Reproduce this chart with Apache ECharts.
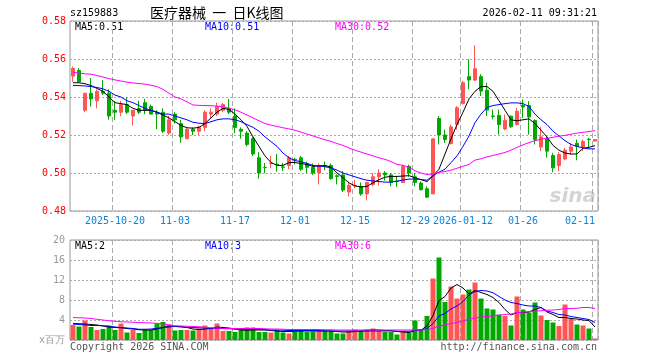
<!DOCTYPE html>
<html><head><meta charset="utf-8">
<script src="https://cdn.jsdelivr.net/npm/echarts@6/dist/echarts.min.js"></script>
<style>html,body{margin:0;padding:0;background:#fff}#c{width:660px;height:360px}</style>
</head><body><div id="c"></div>
<script>
const dates = ['2025-10-09','2025-10-10','2025-10-13','2025-10-14','2025-10-15','2025-10-16','2025-10-17','2025-10-20','2025-10-21','2025-10-22',
'2025-10-23','2025-10-24','2025-10-27','2025-10-28','2025-10-29','2025-10-30','2025-10-31','2025-11-03','2025-11-04','2025-11-05',
'2025-11-06','2025-11-07','2025-11-10','2025-11-11','2025-11-12','2025-11-13','2025-11-14','2025-11-17','2025-11-18','2025-11-19',
'2025-11-20','2025-11-21','2025-11-24','2025-11-25','2025-11-26','2025-11-27','2025-11-28','2025-12-01','2025-12-02','2025-12-03',
'2025-12-04','2025-12-05','2025-12-08','2025-12-09','2025-12-10','2025-12-11','2025-12-12','2025-12-15','2025-12-16','2025-12-17',
'2025-12-18','2025-12-19','2025-12-22','2025-12-23','2025-12-24','2025-12-25','2025-12-26','2025-12-29','2025-12-30','2025-12-31',
'2026-01-05','2026-01-06','2026-01-07','2026-01-08','2026-01-09','2026-01-12','2026-01-13','2026-01-14','2026-01-15','2026-01-16',
'2026-01-19','2026-01-20','2026-01-21','2026-01-22','2026-01-23','2026-01-26','2026-01-27','2026-01-28','2026-01-29','2026-01-30',
'2026-02-02','2026-02-03','2026-02-04','2026-02-05','2026-02-06','2026-02-09','2026-02-10','2026-02-11'];

const open = [0.551,0.554,0.533,0.542,0.538,0.543,0.542,0.533,0.532,0.536,
0.530,0.534,0.537,0.535,0.532,0.532,0.521,0.531,0.526,0.518,
0.523,0.522,0.524,0.531,0.531,0.533,0.534,0.530,0.523,0.521,
0.518,0.508,0.503,0.505,0.5047,0.5032,0.504,0.5072,0.508,0.505,
0.503,0.500,0.5037,0.504,0.4985,0.499,0.490,0.4932,0.493,0.489,
0.494,0.498,0.500,0.499,0.4958,0.495,0.5035,0.498,0.4947,0.4917,
0.489,0.5287,0.520,0.5155,0.5255,0.5366,0.5507,0.5489,0.5507,0.5436,
0.530,0.5303,0.5232,0.5299,0.5255,0.5356,0.5355,0.5276,0.5137,0.5181,
0.5092,0.5039,0.5074,0.5115,0.5157,0.5137,0.5178,0.5168];
const close = [0.555,0.548,0.542,0.539,0.543,0.542,0.530,0.532,0.536,0.532,
0.533,0.532,0.533,0.531,0.531,0.522,0.528,0.528,0.519,0.523,
0.522,0.524,0.532,0.532,0.535,0.536,0.532,0.524,0.522,0.515,
0.510,0.500,0.5028,0.5053,0.5044,0.503,0.508,0.5068,0.502,0.503,
0.500,0.504,0.5034,0.497,0.4982,0.491,0.4935,0.4935,0.489,0.495,
0.498,0.500,0.499,0.495,0.4955,0.5035,0.500,0.495,0.4912,0.4873,
0.518,0.520,0.5176,0.5243,0.5343,0.5475,0.5489,0.5549,0.5431,0.5331,
0.5298,0.5255,0.5278,0.5243,0.5325,0.5347,0.5295,0.5176,0.519,0.5115,
0.5027,0.5097,0.512,0.5137,0.514,0.5166,0.5175,0.5176];
const low = [0.548,0.548,0.532,0.535,0.534,0.541,0.528,0.528,0.530,0.531,
0.525,0.531,0.531,0.531,0.523,0.521,0.520,0.526,0.516,0.518,
0.520,0.520,0.522,0.529,0.530,0.532,0.531,0.521,0.518,0.514,
0.509,0.497,0.4998,0.5025,0.5007,0.501,0.502,0.5045,0.501,0.500,
0.499,0.494,0.5015,0.4965,0.494,0.490,0.4877,0.492,0.488,0.4856,
0.493,0.4935,0.496,0.493,0.4926,0.495,0.498,0.493,0.4908,0.4868,
0.489,0.515,0.5158,0.515,0.5228,0.536,0.544,0.5484,0.5405,0.530,
0.5282,0.5202,0.5225,0.5238,0.525,0.529,0.5202,0.515,0.5115,0.508,
0.5004,0.5009,0.5067,0.5097,0.5067,0.5115,0.5132,0.5165];
const high = [0.556,0.5553,0.542,0.550,0.544,0.549,0.544,0.538,0.538,0.540,
0.533,0.538,0.539,0.536,0.533,0.534,0.530,0.532,0.528,0.524,
0.524,0.525,0.533,0.534,0.537,0.537,0.539,0.534,0.524,0.522,
0.519,0.511,0.5053,0.509,0.510,0.5053,0.509,0.508,0.509,0.506,
0.505,0.505,0.506,0.505,0.4993,0.501,0.4955,0.4963,0.495,0.4955,
0.500,0.502,0.501,0.500,0.4982,0.5044,0.5044,0.500,0.4956,0.493,
0.518,0.530,0.5228,0.5255,0.5352,0.5484,0.5598,0.5672,0.552,0.5475,
0.5334,0.5334,0.5308,0.5303,0.5343,0.5387,0.5378,0.5282,0.5243,0.5194,
0.5106,0.511,0.5132,0.5158,0.5176,0.5176,0.5185,0.5178];

const ma5 = [0.5475,0.5475,0.547,0.546,0.5445,0.543,0.540,0.537,0.5365,0.536,
0.534,0.533,0.533,0.533,0.532,0.5305,0.529,0.527,0.525,0.5238,
0.5236,0.524,0.526,0.529,0.532,0.534,0.5335,0.531,0.528,0.5245,
0.519,0.514,0.509,0.5055,0.504,0.504,0.5055,0.5055,0.505,0.5045,
0.5035,0.5037,0.504,0.503,0.500,0.4975,0.4948,0.4932,0.4926,0.493,
0.4948,0.4965,0.4978,0.4982,0.4982,0.4984,0.4986,0.4975,0.4965,0.4955,
0.4985,0.502,0.510,0.518,0.5255,0.532,0.539,0.543,0.5455,0.5455,
0.543,0.538,0.533,0.528,0.5275,0.528,0.5285,0.526,0.5225,0.519,
0.5145,0.512,0.5105,0.510,0.510,0.513,0.5135,0.5144];
const ma10 = [0.5461,0.546,0.5458,0.5455,0.545,0.5443,0.543,0.541,0.540,0.538,
0.537,0.5355,0.534,0.533,0.532,0.531,0.531,0.530,0.529,0.528,
0.5267,0.5262,0.526,0.527,0.528,0.5285,0.5285,0.528,0.527,0.5255,
0.524,0.522,0.519,0.5165,0.514,0.5105,0.508,0.5065,0.506,0.505,
0.504,0.5037,0.5033,0.5027,0.5015,0.500,0.499,0.498,0.497,0.4962,
0.4958,0.4955,0.4952,0.4952,0.4957,0.4963,0.4968,0.4968,0.4966,0.4962,
0.4985,0.5005,0.502,0.5055,0.509,0.514,0.5195,0.5265,0.531,0.5345,
0.5355,0.536,0.5365,0.5369,0.5369,0.5365,0.535,0.531,0.528,0.5255,
0.522,0.5195,0.517,0.515,0.514,0.5132,0.5127,0.5127];
const ma30 = [0.553,0.5526,0.5522,0.552,0.5513,0.5505,0.5497,0.549,0.5484,0.5478,
0.5474,0.5471,0.5468,0.5462,0.5455,0.544,0.542,0.540,0.539,0.5375,
0.5358,0.5356,0.5355,0.5354,0.5352,0.5348,0.5342,0.5332,0.532,0.5305,
0.529,0.5275,0.526,0.5252,0.5245,0.5238,0.5232,0.5225,0.5215,0.5205,
0.5195,0.5185,0.5175,0.5167,0.5155,0.5145,0.5132,0.512,0.511,0.510,
0.509,0.508,0.5072,0.506,0.5045,0.504,0.503,0.5012,0.500,0.4992,
0.4995,0.5003,0.5008,0.5015,0.5025,0.5035,0.5045,0.5068,0.5075,0.5085,
0.5092,0.510,0.5108,0.512,0.5135,0.5148,0.516,0.517,0.5178,0.5182,
0.5188,0.5194,0.5198,0.5204,0.521,0.5214,0.5218,0.5223];

const volume = [3.0,2.7,3.9,2.6,2.0,2.2,2.8,2.0,3.3,1.5,
2.0,1.4,2.1,2.0,3.3,3.6,3.1,1.9,2.0,2.0,
1.9,2.3,2.9,2.3,3.3,1.8,1.8,1.6,2.0,2.5,
2.5,1.6,1.6,1.5,2.0,1.5,1.3,1.7,1.9,1.6,
1.7,1.8,1.8,1.8,1.3,1.3,1.8,2.1,1.8,2.1,
2.3,1.8,1.6,1.6,1.1,1.8,1.5,3.9,2.1,4.8,
12.3,16.5,7.6,10.7,8.3,9.1,10.1,11.5,8.3,6.3,
6.1,5.1,4.8,2.9,8.7,6.1,5.5,7.5,4.9,4.0,
3.5,2.8,7.1,4.3,3.1,2.9,2.3,0.3];
const vma5 = [3.3,3.25,3.2,3.1,3.0,2.8,2.6,2.5,2.45,2.3,
2.2,2.05,2.0,2.0,2.2,2.5,2.8,2.75,2.7,2.5,
2.2,2.1,2.2,2.3,2.6,2.5,2.4,2.2,2.0,1.95,
2.0,2.0,2.0,1.9,1.8,1.7,1.7,1.75,1.8,1.8,
1.8,1.8,1.8,1.8,1.7,1.6,1.6,1.7,1.8,1.9,
2.0,2.0,1.9,1.9,1.7,1.6,1.5,1.9,2.0,2.8,
4.9,7.9,8.7,10.4,11.1,10.4,9.2,9.9,9.5,9.1,
8.5,7.5,6.1,5.0,5.5,5.5,5.6,6.1,6.5,5.6,
5.1,4.5,4.5,4.3,4.2,4.0,3.9,2.6];
const vma10 = [3.2,3.1,3.0,2.9,2.9,2.85,2.8,2.6,2.5,2.4,
2.3,2.15,2.15,2.2,2.35,2.5,2.6,2.7,2.6,2.5,
2.5,2.45,2.4,2.35,2.35,2.3,2.25,2.2,2.1,2.1,
2.1,2.1,2.05,2.0,2.0,1.95,1.9,1.9,1.9,1.9,
1.9,1.9,1.85,1.8,1.8,1.8,1.8,1.8,1.8,1.8,
1.8,1.8,1.8,1.8,1.75,1.75,1.75,1.9,2.0,2.3,
3.3,4.8,5.3,6.2,6.8,7.7,9.0,9.7,9.9,9.8,
9.45,8.7,8.0,7.5,7.3,7.0,6.8,6.8,6.5,5.8,
5.5,5.1,5.0,4.7,4.5,4.3,4.1,3.5];
const vma30 = [4.5,4.45,4.4,4.3,4.15,4.0,3.85,3.75,3.65,3.6,
3.55,3.5,3.45,3.4,3.35,3.2,3.0,2.85,2.8,2.75,
2.7,2.65,2.55,2.45,2.4,2.3,2.3,2.3,2.3,2.3,
2.3,2.3,2.25,2.2,2.2,2.15,2.1,2.1,2.1,2.1,
2.1,2.1,2.05,2.05,2.0,2.0,2.0,2.0,2.0,2.0,
2.0,2.0,2.0,2.0,2.0,2.0,2.0,2.0,2.0,2.1,
2.3,2.8,3.0,3.3,3.5,3.8,4.2,4.4,4.6,4.7,
4.8,4.95,5.1,5.2,5.5,5.55,5.7,5.8,5.85,5.95,
6.0,6.1,6.3,6.3,6.35,6.5,6.5,6.3];

const tickDates = ['2025-10-20','2025-11-03','2025-11-17','2025-12-01','2025-12-15','2025-12-29','2026-01-12','2026-01-26','2026-02-11'];
const tickLabels = ['2025-10-20','11-03','11-17','12-01','12-15','12-29','2026-01-12','01-26','02-11'];

const UP = '#ff5555', DOWN = '#00a800';
const MONO = '"DejaVu Sans Mono", monospace';
const last = a => a[a.length - 1];
const trunc2 = v => (Math.floor(v * 100) / 100).toFixed(2);

const kData = open.map((o, i) => [o, close[i], low[i], high[i]]);
const volData = volume.map((v, i) => ({value: v, itemStyle: {color: close[i] >= open[i] ? UP : DOWN}}));
const isTick = (idx, val) => tickDates.indexOf(val) >= 0;

const chart = echarts.init(document.getElementById('c'), null, {renderer: 'canvas'});

const xBase = (gi, showLabel) => ({
  type: 'category', gridIndex: gi, data: dates, boundaryGap: true,
  axisLine: {show: false}, axisTick: {show: false},
  splitLine: {show: true, interval: isTick, lineStyle: {color: '#aaaaaa', type: [5, 3], width: 1}},
  axisLabel: showLabel ? {
    show: true, interval: isTick, color: '#0b84d9', fontFamily: MONO, fontSize: 10, margin: 5,
    alignMaxLabel: 'right',
    formatter: v => tickLabels[tickDates.indexOf(v)]
  } : {show: false}
});

const lineS = (xi, yi, data, color) => ({
  type: 'line', xAxisIndex: xi, yAxisIndex: yi, data: data, symbol: 'none', silent: true,
  lineStyle: {color: color, width: 1}, itemStyle: {color: color}, z: 5
});

const txt = (x, y, text, fill, extra) => ({
  type: 'text', x: x, y: y, silent: true,
  style: Object.assign({text: text, fill: fill, font: '10px ' + MONO, textVerticalAlign: 'middle'}, extra || {})
});

chart.setOption({
  animation: false,
  backgroundColor: '#ffffff',
  grid: [
    {left: 70, top: 21, width: 528, height: 190, show: true, borderColor: '#999999', borderWidth: 1},
    {left: 70, top: 240, width: 528, height: 100, show: true, borderColor: '#999999', borderWidth: 1}
  ],
  xAxis: [xBase(0, true), xBase(1, false)],
  yAxis: [
    {type: 'value', gridIndex: 0, min: 0.48, max: 0.58, interval: 0.02, scale: true,
      axisLine: {show: false}, axisTick: {show: false},
      splitLine: {show: true, lineStyle: {color: '#aaaaaa', type: [2, 2], width: 1}},
      axisLabel: {color: '#ff0000', fontFamily: MONO, fontSize: 10, margin: 4, formatter: v => v.toFixed(2)}},
    {type: 'value', gridIndex: 1, min: 0, max: 20, interval: 4,
      axisLine: {show: false}, axisTick: {show: false},
      splitLine: {show: true, lineStyle: {color: '#aaaaaa', type: [2, 2], width: 1}},
      axisLabel: {color: '#999999', fontFamily: MONO, fontSize: 10, margin: 5,
        formatter: v => v === 0 ? 'x百万' : String(v)}}
  ],
  series: [
    {type: 'candlestick', xAxisIndex: 0, yAxisIndex: 0, data: kData, barWidth: 4, silent: true,
      itemStyle: {color: UP, color0: DOWN, borderColor: UP, borderColor0: DOWN, borderWidth: 1}},
    lineS(0, 0, ma5, '#000000'),
    lineS(0, 0, ma10, '#0000ff'),
    lineS(0, 0, ma30, '#ff00ff'),
    {type: 'bar', xAxisIndex: 1, yAxisIndex: 1, data: volData, barWidth: 5, silent: true},
    lineS(1, 1, vma5, '#000000'),
    lineS(1, 1, vma10, '#0000ff'),
    lineS(1, 1, vma30, '#ff00ff')
  ],
  graphic: [
    txt(70, 13, 'sz159883', '#000000'),
    {type: 'text', x: 150, y: 13, silent: true,
      style: {text: '医疗器械  一  日K线图', fill: '#000000', font: '14px "Noto Sans CJK SC", sans-serif', textVerticalAlign: 'middle'}},
    txt(597, 13, '2026-02-11 09:31:21', '#000000', {textAlign: 'right'}),
    txt(75, 27, 'MA5:' + trunc2(last(ma5)), '#000000'),
    txt(205, 27, 'MA10:' + trunc2(last(ma10)), '#0000ff'),
    txt(335, 27, 'MA30:' + trunc2(last(ma30)), '#ff00ff'),
    txt(75, 246, 'MA5:' + Math.floor(last(vma5)), '#000000'),
    txt(205, 246, 'MA10:' + Math.floor(last(vma10)), '#0000ff'),
    txt(335, 246, 'MA30:' + Math.floor(last(vma30)), '#ff00ff'),
    txt(70, 347, 'Copyright 2026 SINA.COM', '#555555'),
    txt(597, 347, 'http://finance.sina.com.cn', '#555555', {textAlign: 'right'}),
    {type: 'text', x: 596, y: 197, silent: true, z: -1,
      style: {text: 'sina', fill: '#d4d4d4', font: 'italic bold 20px "DejaVu Sans", sans-serif', textAlign: 'right', textVerticalAlign: 'middle'}}
  ]
});
</script></body></html>
